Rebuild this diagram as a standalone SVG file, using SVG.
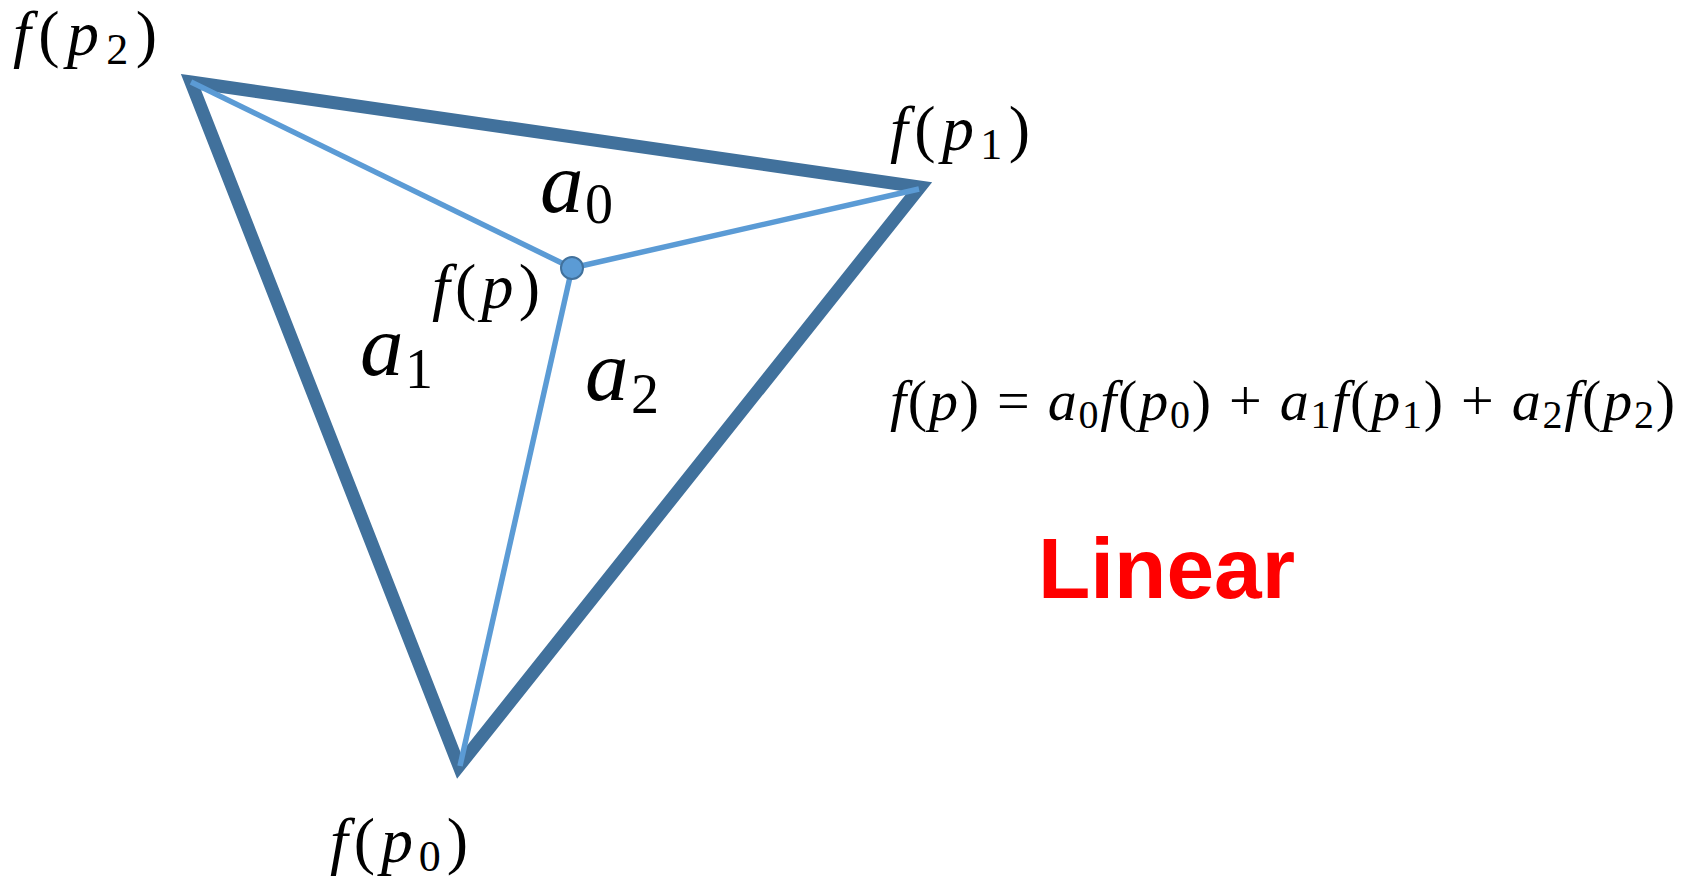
<svg xmlns="http://www.w3.org/2000/svg" width="1694" height="881" viewBox="0 0 1694 881">
<style>
.thick{fill:none;stroke:#41719C;stroke-width:13;stroke-linejoin:miter;stroke-miterlimit:10}
.thin{fill:none;stroke:#5B9BD5;stroke-width:5.5}
.lin{font-family:'Liberation Sans',Arial,sans-serif;font-weight:bold;fill:#FF0000}
</style>
<rect width="1694" height="881" fill="#fff"/>
<g id="triangle">
<polygon class="thick" points="191,82 920,187 459,766"/>
</g>
<g id="connectors">
<line class="thin" x1="572" y1="268" x2="191" y2="82"/>
<line class="thin" x1="572" y1="268" x2="919" y2="189"/>
<line class="thin" x1="572" y1="268" x2="460" y2="766"/>
</g>
<g id="center-point">
<circle cx="572" cy="268" r="11" fill="#5B9BD5" stroke="#41719C" stroke-width="2"/>
</g>
<g font-family="Liberation Serif, serif" fill="#000">
<g id="label-fp2">
<text x="13" y="55" font-size="64" textLength="144" lengthAdjust="spacing"><tspan font-style="italic">f</tspan>(<tspan font-style="italic">p</tspan><tspan font-size="44" dy="9">2</tspan><tspan dy="-9">)</tspan></text>
</g>
<g id="label-fp1">
<text x="890" y="150" font-size="64" textLength="140" lengthAdjust="spacing"><tspan font-style="italic">f</tspan>(<tspan font-style="italic">p</tspan><tspan font-size="44" dy="9">1</tspan><tspan dy="-9">)</tspan></text>
</g>
<g id="label-fp0">
<text x="330" y="862" font-size="64" textLength="138" lengthAdjust="spacing"><tspan font-style="italic">f</tspan>(<tspan font-style="italic">p</tspan><tspan font-size="44" dy="9">0</tspan><tspan dy="-9">)</tspan></text>
</g>
<g id="label-fp">
<text x="432" y="308" font-size="64" textLength="108" lengthAdjust="spacing"><tspan font-style="italic">f</tspan>(<tspan font-style="italic">p</tspan>)</text>
</g>
<g id="label-a0">
<text x="540" y="212" font-size="87" font-style="italic">a</text>
<text x="585" y="223" font-size="56">0</text>
</g>
<g id="label-a1">
<text x="360" y="375" font-size="87" font-style="italic">a</text>
<text x="405" y="388" font-size="56">1</text>
</g>
<g id="label-a2">
<text x="585" y="400" font-size="87" font-style="italic">a</text>
<text x="631" y="413" font-size="56">2</text>
</g>
<g id="equation">
<text x="890" y="420" font-size="58" textLength="785" lengthAdjust="spacing"><tspan font-style="italic">f</tspan>(<tspan font-style="italic">p</tspan>) = <tspan font-style="italic">a</tspan><tspan font-size="40" dy="8">0</tspan><tspan dy="-8" font-style="italic">f</tspan>(<tspan font-style="italic">p</tspan><tspan font-size="40" dy="8">0</tspan><tspan dy="-8">) + </tspan><tspan font-style="italic">a</tspan><tspan font-size="40" dy="8">1</tspan><tspan dy="-8" font-style="italic">f</tspan>(<tspan font-style="italic">p</tspan><tspan font-size="40" dy="8">1</tspan><tspan dy="-8">) + </tspan><tspan font-style="italic">a</tspan><tspan font-size="40" dy="8">2</tspan><tspan dy="-8" font-style="italic">f</tspan>(<tspan font-style="italic">p</tspan><tspan font-size="40" dy="8">2</tspan><tspan dy="-8">)</tspan></text>
</g>
</g>
<g id="title">
<text class="lin" x="1038" y="598" font-size="85" textLength="257" lengthAdjust="spacingAndGlyphs">Linear</text>
</g>
</svg>
